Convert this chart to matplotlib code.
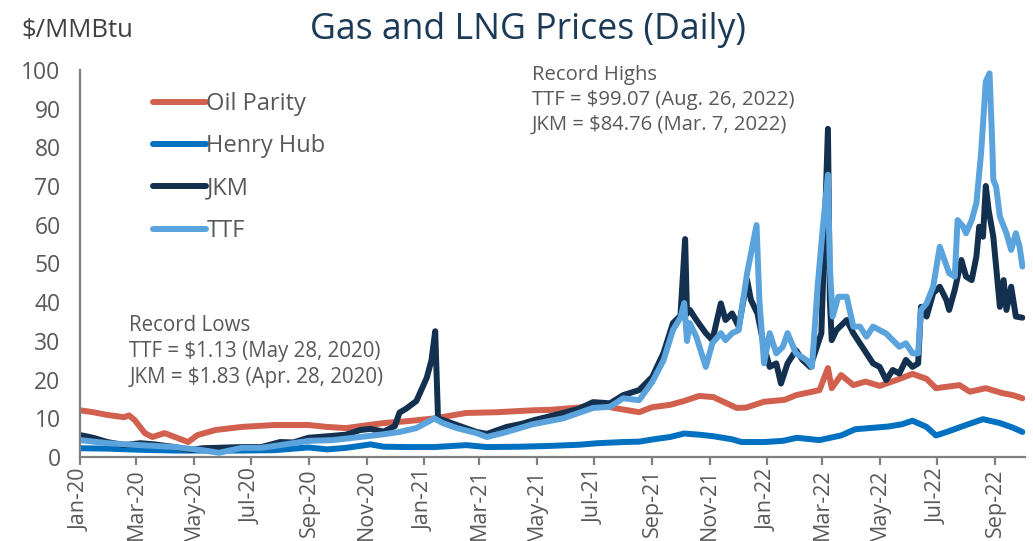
import pandas as pd
import matplotlib
matplotlib.use("Agg")
import matplotlib.pyplot as plt
import matplotlib.dates as mdates

plt.rcParams['font.family'] = ['Open Sans', 'DejaVu Sans']

# values in $/MMBtu
oil_dates = ["2020-01-01", "2020-01-15", "2020-01-30", "2020-02-17", "2020-02-22", "2020-02-28",
             "2020-03-10", "2020-03-18", "2020-03-31", "2020-04-11", "2020-04-25", "2020-05-05",
             "2020-05-24", "2020-06-21", "2020-07-26", "2020-08-31", "2020-09-20", "2020-10-10",
             "2020-11-19", "2020-12-15", "2021-01-12", "2021-02-15", "2021-03-20", "2021-04-27",
             "2021-05-15", "2021-06-15", "2021-07-05", "2021-07-20", "2021-08-18", "2021-09-01",
             "2021-09-20", "2021-10-05", "2021-10-21", "2021-11-05", "2021-11-30", "2021-12-10",
             "2021-12-29", "2022-01-20", "2022-02-01", "2022-02-26", "2022-03-07", "2022-03-11",
             "2022-03-21", "2022-04-03", "2022-04-16", "2022-05-01", "2022-05-20", "2022-06-05",
             "2022-06-20", "2022-06-30", "2022-07-25", "2022-08-05", "2022-08-22", "2022-09-09",
             "2022-09-20", "2022-09-30"]
oil_vals = [12.1, 11.6, 10.9, 10.3, 10.8, 9.6,
            6.2, 5.2, 6.2, 5.2, 3.9, 5.7,
            7.0, 7.8, 8.3, 8.3, 7.8, 7.5,
            8.8, 9.3, 10.0, 11.4, 11.6, 12.1,
            12.2, 12.8, 13.8, 12.8, 11.6, 12.9,
            13.5, 14.5, 15.8, 15.5, 12.7, 12.8,
            14.3, 14.8, 16.0, 17.3, 23.0, 17.8,
            21.2, 18.6, 19.5, 18.4, 20.0, 21.5,
            20.2, 17.8, 18.6, 16.9, 17.8, 16.5,
            16.0, 15.2]

hh_dates = ["2020-01-01", "2020-01-30", "2020-03-05", "2020-04-11", "2020-05-24", "2020-06-21",
            "2020-07-26", "2020-08-31", "2020-09-20", "2020-10-10", "2020-10-25", "2020-11-05",
            "2020-11-19", "2020-12-15", "2021-01-12", "2021-02-15", "2021-03-09", "2021-04-15",
            "2021-05-15", "2021-06-15", "2021-07-05", "2021-08-01", "2021-08-18", "2021-09-05",
            "2021-09-20", "2021-10-05", "2021-10-21", "2021-11-05", "2021-11-25", "2021-12-05",
            "2021-12-29", "2022-01-18", "2022-02-02", "2022-02-26", "2022-03-21", "2022-04-05",
            "2022-04-20", "2022-05-10", "2022-05-25", "2022-06-05", "2022-06-20", "2022-06-30",
            "2022-07-15", "2022-08-01", "2022-08-19", "2022-09-06", "2022-09-20", "2022-09-30"]
hh_vals = [2.3, 2.2, 1.9, 1.7, 1.7, 1.7,
           1.8, 2.5, 2.0, 2.4, 2.9, 3.3,
           2.7, 2.6, 2.6, 3.1, 2.6, 2.7,
           2.9, 3.2, 3.6, 3.9, 4.0, 4.7,
           5.2, 6.1, 5.8, 5.4, 4.6, 3.9,
           3.9, 4.2, 5.0, 4.4, 5.6, 7.2,
           7.5, 7.9, 8.5, 9.4, 7.8, 5.6,
           6.8, 8.3, 9.8, 8.8, 7.6, 6.5]

jkm_dates = ["2020-01-01", "2020-01-15", "2020-01-30", "2020-02-17", "2020-03-05", "2020-03-20",
             "2020-04-11", "2020-04-28", "2020-05-10", "2020-05-24", "2020-06-21", "2020-07-12",
             "2020-08-01", "2020-08-15", "2020-08-31", "2020-09-26", "2020-10-10", "2020-10-25",
             "2020-11-05", "2020-11-19", "2020-12-01", "2020-12-06", "2020-12-13", "2020-12-24",
             "2021-01-04", "2021-01-09", "2021-01-13", "2021-01-16", "2021-01-21", "2021-02-05",
             "2021-02-26", "2021-03-09", "2021-03-30", "2021-04-15", "2021-04-29", "2021-05-29",
             "2021-06-15", "2021-06-30", "2021-07-18", "2021-08-01", "2021-08-18", "2021-09-01",
             "2021-09-13", "2021-09-23", "2021-10-01", "2021-10-06", "2021-10-08", "2021-10-11",
             "2021-10-18", "2021-10-28", "2021-11-04", "2021-11-13", "2021-11-18", "2021-11-25",
             "2021-12-02", "2021-12-11", "2021-12-15", "2021-12-22", "2021-12-29", "2022-01-04",
             "2022-01-11", "2022-01-16", "2022-01-23", "2022-02-01", "2022-02-08", "2022-02-16",
             "2022-02-21", "2022-02-28", "2022-03-07", "2022-03-09", "2022-03-11", "2022-03-16",
             "2022-03-27", "2022-04-03", "2022-04-10", "2022-04-17", "2022-04-24", "2022-05-01",
             "2022-05-08", "2022-05-15", "2022-05-22", "2022-05-29", "2022-06-05", "2022-06-11",
             "2022-06-14", "2022-06-20", "2022-06-27", "2022-07-04", "2022-07-11", "2022-07-14",
             "2022-07-20", "2022-07-27", "2022-08-01", "2022-08-07", "2022-08-12", "2022-08-15",
             "2022-08-19", "2022-08-22", "2022-08-25", "2022-08-30", "2022-09-02", "2022-09-06",
             "2022-09-10", "2022-09-13", "2022-09-18", "2022-09-23", "2022-09-30"]
jkm_vals = [5.7, 5.0, 3.9, 3.1, 3.6, 3.3,
            2.6, 1.83, 2.3, 2.4, 2.6, 2.6,
            3.9, 3.8, 5.0, 5.5, 5.8, 7.0,
            7.3, 6.6, 8.0, 11.5, 12.5, 14.5,
            20.5, 25.0, 32.5, 10.0, 9.6, 8.3,
            6.5, 6.0, 7.8, 8.6, 9.6, 11.4,
            12.5, 14.2, 13.9, 16.0, 17.3, 20.7,
            26.9, 34.6, 36.5, 56.3, 37.0, 38.0,
            35.4, 32.0, 30.2, 39.7, 35.4, 37.1,
            33.7, 45.7, 40.6, 37.1, 28.5, 23.3,
            24.2, 19.0, 24.2, 27.6, 25.1, 23.3,
            26.8, 32.0, 84.76, 40.6, 30.2, 32.8,
            35.4, 32.0, 29.4, 26.8, 24.2, 23.3,
            19.9, 22.5, 21.6, 25.1, 23.3, 24.2,
            38.8, 36.3, 42.3, 44.0, 40.6, 38.0,
            43.2, 50.9, 46.6, 45.7, 51.8, 59.5,
            56.9, 70.0, 63.8, 56.9, 49.2, 38.8,
            45.7, 38.0, 44.0, 36.3, 36.0]

ttf_dates = ["2020-01-01", "2020-01-30", "2020-03-05", "2020-04-11", "2020-05-10", "2020-05-28",
             "2020-06-21", "2020-07-12", "2020-08-01", "2020-08-31", "2020-09-26", "2020-10-25",
             "2020-11-19", "2020-12-06", "2020-12-24", "2021-01-12", "2021-01-21", "2021-02-05",
             "2021-02-26", "2021-03-09", "2021-03-30", "2021-04-27", "2021-05-29", "2021-06-30",
             "2021-07-18", "2021-08-01", "2021-08-18", "2021-09-01", "2021-09-13", "2021-09-23",
             "2021-10-01", "2021-10-05", "2021-10-08", "2021-10-11", "2021-10-18", "2021-10-28",
             "2021-11-04", "2021-11-13", "2021-11-18", "2021-11-25", "2021-12-02", "2021-12-11",
             "2021-12-21", "2021-12-24", "2021-12-29", "2022-01-04", "2022-01-11", "2022-01-18",
             "2022-01-23", "2022-02-01", "2022-02-12", "2022-02-18", "2022-02-24", "2022-03-01",
             "2022-03-07", "2022-03-09", "2022-03-12", "2022-03-18", "2022-03-27", "2022-04-03",
             "2022-04-10", "2022-04-17", "2022-04-24", "2022-05-01", "2022-05-08", "2022-05-15",
             "2022-05-22", "2022-05-29", "2022-06-05", "2022-06-11", "2022-06-14", "2022-06-20",
             "2022-06-27", "2022-07-04", "2022-07-09", "2022-07-14", "2022-07-20", "2022-07-23",
             "2022-07-29", "2022-08-01", "2022-08-07", "2022-08-12", "2022-08-17", "2022-08-22",
             "2022-08-26", "2022-08-29", "2022-08-30", "2022-09-02", "2022-09-06", "2022-09-13",
             "2022-09-18", "2022-09-23", "2022-09-27", "2022-09-30"]
ttf_vals = [4.4, 3.6, 3.1, 2.6, 1.8, 1.13,
            2.4, 2.4, 3.1, 4.2, 4.4, 5.2,
            5.9, 6.5, 7.5, 10.0, 8.8, 7.5,
            6.2, 5.2, 6.5, 8.5, 10.0, 12.7,
            13.0, 15.2, 14.7, 19.4, 25.0, 32.8,
            36.0, 39.8, 30.0, 34.6, 31.0, 23.3,
            29.4, 32.0, 30.2, 32.0, 32.8, 47.5,
            59.9, 40.6, 24.2, 32.0, 26.8, 28.5,
            32.0, 26.8, 25.1, 23.3, 44.0, 57.8,
            72.9, 49.2, 36.3, 41.4, 41.4, 33.7,
            33.7, 31.1, 33.7, 32.8, 31.9, 30.2,
            28.5, 29.4, 26.8, 26.8, 38.0, 39.7,
            44.0, 54.3, 50.9, 47.5, 46.6, 61.2,
            59.5, 57.8, 61.2, 65.6, 78.5, 97.0,
            99.07, 80.0, 71.6, 69.8, 62.1, 57.8,
            53.5, 57.8, 54.3, 49.2]

series_names = ["Oil Parity", "Henry Hub", "JKM", "TTF"]
series_colors = ["#D2604F", "#0070C0", "#13304E", "#5BA3DD"]

fig = plt.figure(figsize=(10.33, 5.41), dpi=100)
ax = fig.add_axes([0.0775, 0.155, 0.915, 0.716])

grey = "#595959"
data = [(oil_dates, oil_vals), (hh_dates, hh_vals), (jkm_dates, jkm_vals), (ttf_dates, ttf_vals)]
for (d, v), name, col in zip(data, series_names, series_colors):
    ax.plot(pd.to_datetime(d), v, color=col, lw=4.3, label=name,
            solid_joinstyle='round', solid_capstyle='round')

ax.set_ylim(0, 100)
ax.set_yticks(range(0, 101, 10))
ax.set_xlim(pd.Timestamp("2020-01-01"), pd.Timestamp("2022-10-03"))
ax.xaxis.set_major_locator(mdates.MonthLocator(bymonth=[1, 3, 5, 7, 9, 11]))
ax.xaxis.set_major_formatter(mdates.DateFormatter("%b-%y"))
plt.setp(ax.get_xticklabels(), rotation=90)

for s in ["top", "right"]:
    ax.spines[s].set_visible(False)
for s in ["left", "bottom"]:
    ax.spines[s].set_color("#808080")
    ax.spines[s].set_linewidth(1.6)
ax.tick_params(axis="y", length=0, pad=14, labelsize=16.5, labelcolor=grey)
ax.tick_params(axis="x", length=6, width=1.6, color="#808080", direction="out",
               labelsize=15.5, labelcolor=grey, pad=2)

leg = ax.legend(loc="upper left", bbox_to_anchor=(0.055, 0.998), frameon=False,
                fontsize=17, handlelength=2.25, handletextpad=0.0, labelspacing=0.78)
for t in leg.get_texts():
    t.set_color(grey)

fig.text(0.511, 0.944, "Gas and LNG Prices (Daily)", ha="center", va="center",
         fontsize=25.7, color="#1B3A57")
fig.text(0.021, 0.943, "$/MMBtu", ha="left", va="center", fontsize=18.5, color="#404040")

ax.text(0.478, 1.012, "Record Highs\nTTF = $99.07 (Aug. 26, 2022)\nJKM = $84.76 (Mar. 7, 2022)",
        transform=ax.transAxes, ha="left", va="top", fontsize=14.6, color=grey, linespacing=1.33)
ax.text(0.052, 0.368, "Record Lows\nTTF = $1.13 (May 28, 2020)\nJKM = $1.83 (Apr. 28, 2020)",
        transform=ax.transAxes, ha="left", va="top", fontsize=14.8, color=grey, linespacing=1.33)

fig.savefig("out.png", dpi=100)
